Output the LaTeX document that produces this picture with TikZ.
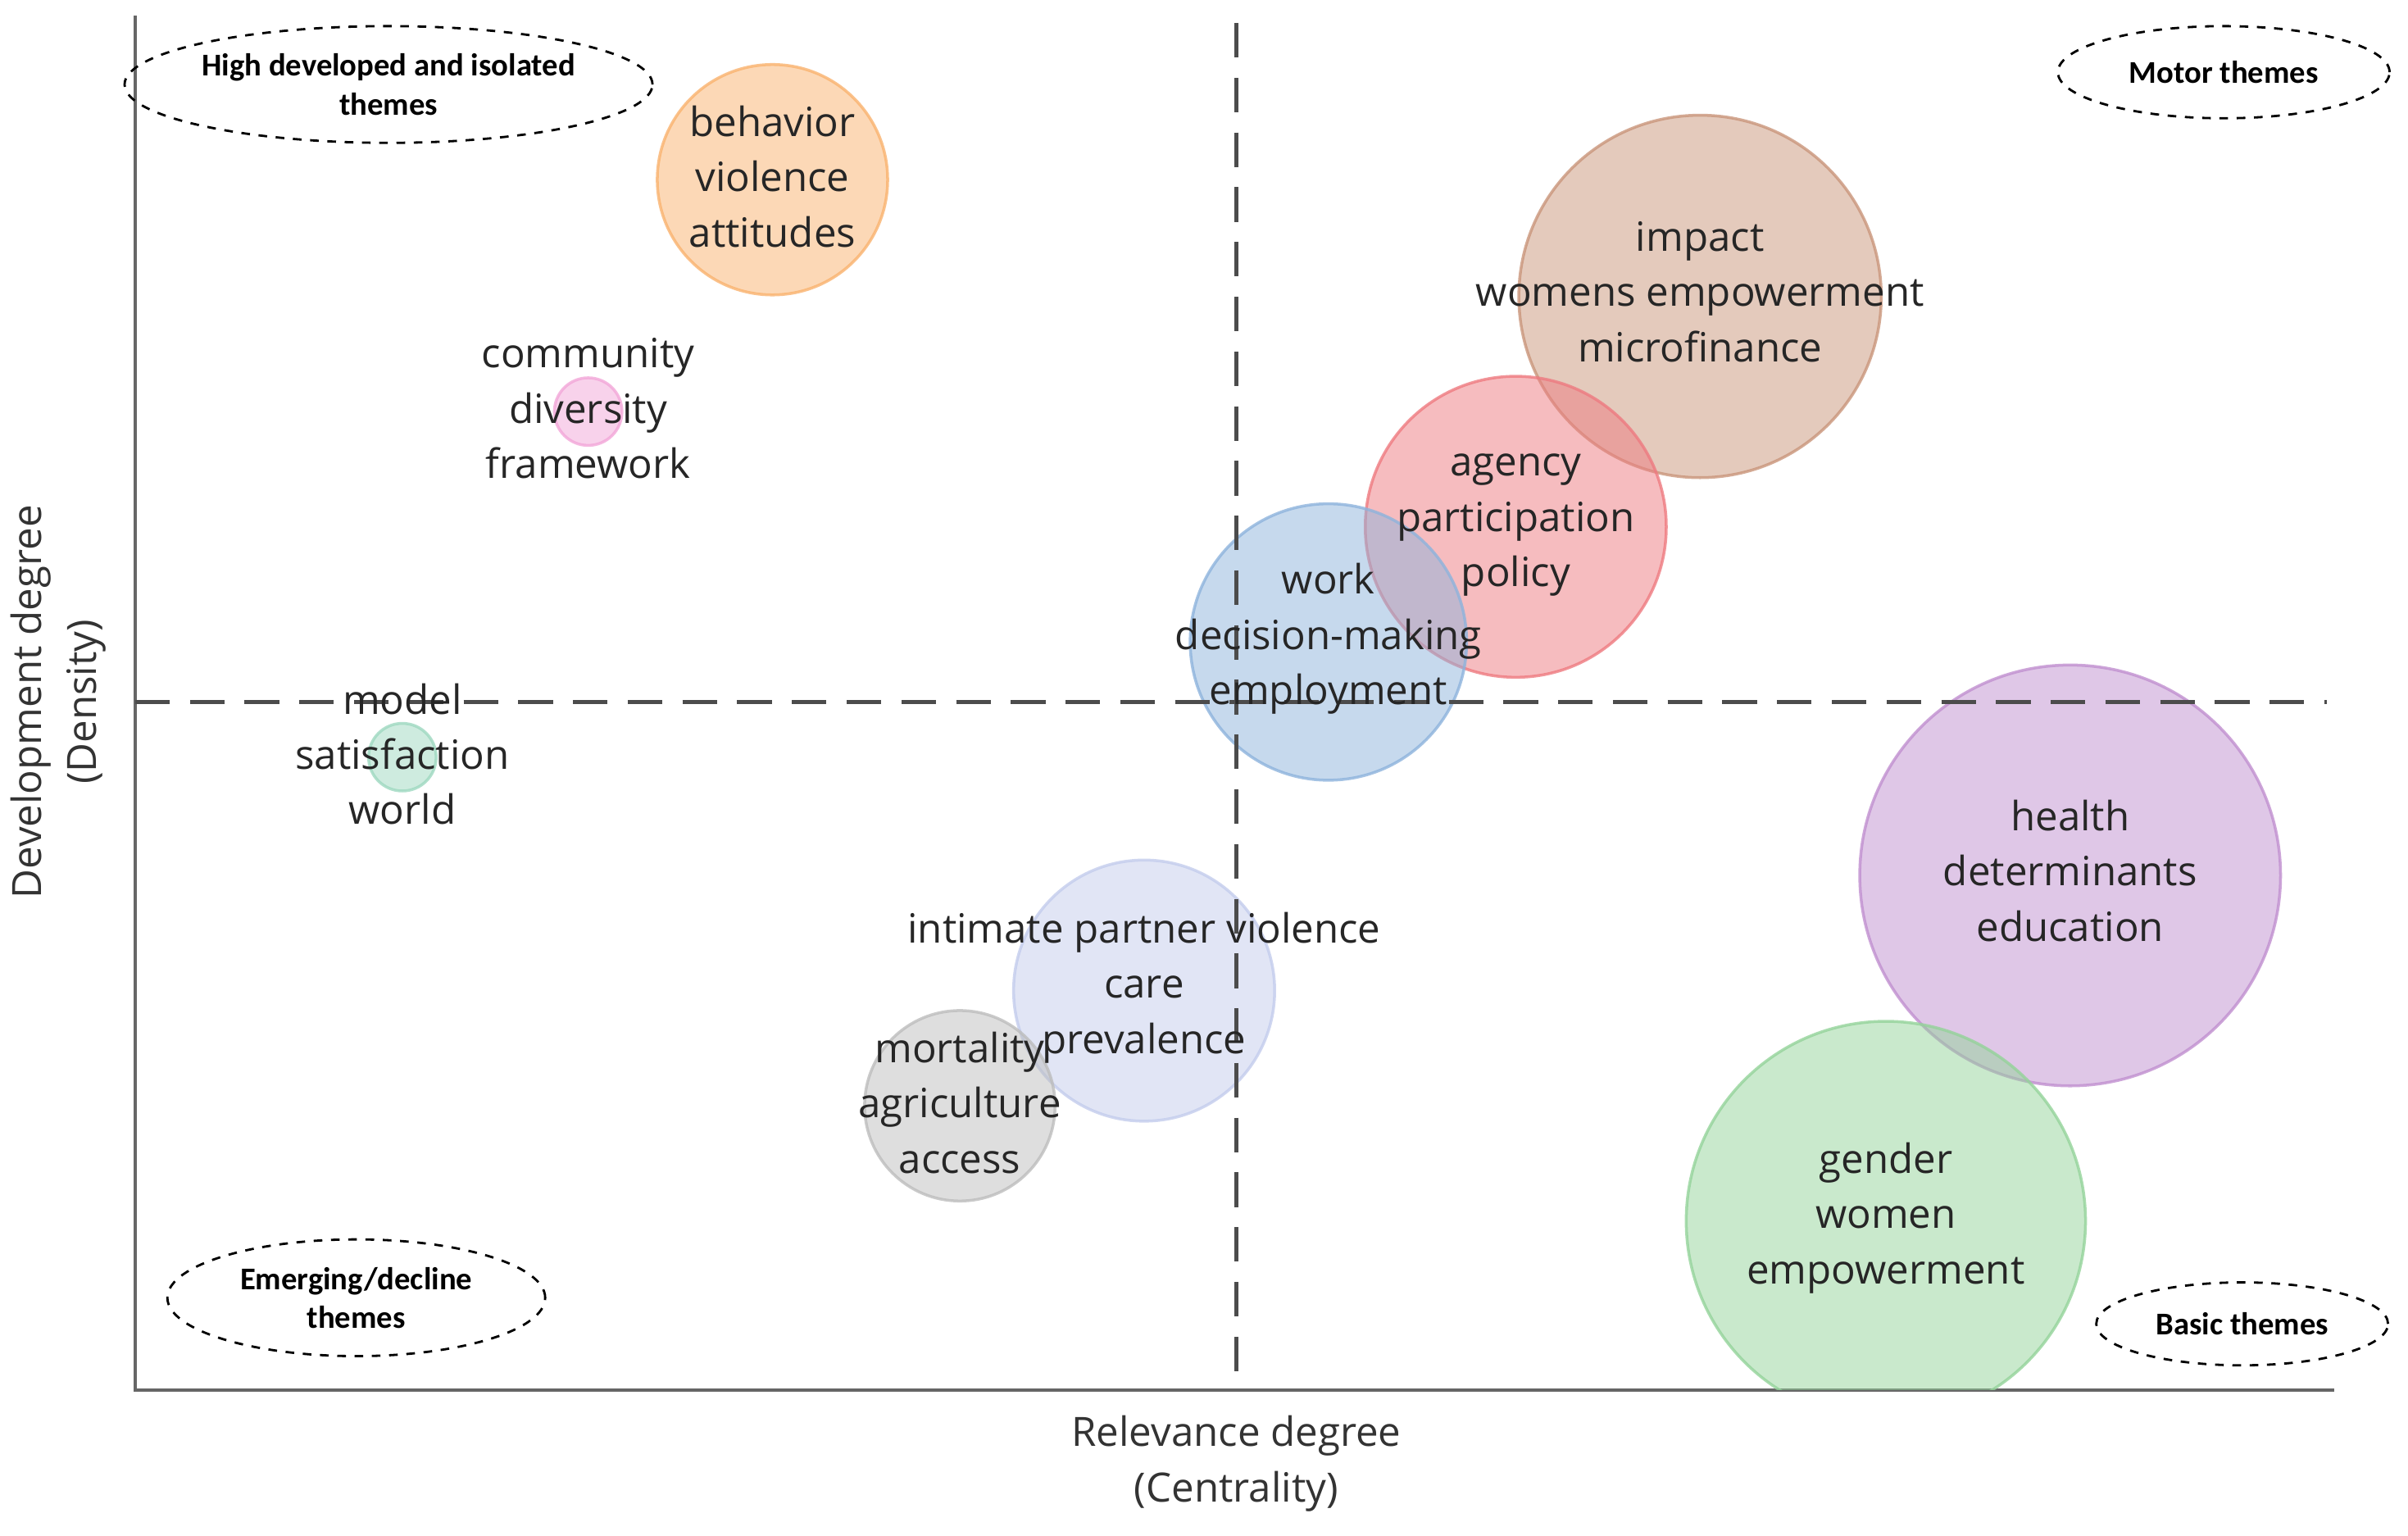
\documentclass[tikz,border=0pt]{standalone}
\usepackage{fontspec}
\setmainfont{Open Sans}
\newfontfamily\lblfont{Carlito}
\usetikzlibrary{shapes.geometric}
\definecolor{cOr}{HTML}{F9B26E}
\definecolor{cPk}{HTML}{F2A6D8}
\definecolor{cBr}{HTML}{C9957A}
\definecolor{cRd}{HTML}{EE7A80}
\definecolor{cBl}{HTML}{8DB3DC}
\definecolor{cGc}{HTML}{9ED8C0}
\definecolor{cLv}{HTML}{C3CCEC}
\definecolor{cGy}{HTML}{BDBDBD}
\definecolor{cPu}{HTML}{C08FCF}
\definecolor{cGn}{HTML}{94D39A}
\begin{document}
\begin{tikzpicture}[x=0.01874cm,y=-0.01874cm,
  bub/.style={circle,draw=#1,line width=1pt,fill=#1,fill opacity=0.5,draw opacity=0.8,inner sep=0pt},
  txt/.style={align=center,text=black!85,font=\fontsize{14}{19.2}\selectfont},
  oval/.style={ellipse,draw,dashed,line width=0.8pt,align=center,inner sep=0pt,font=\lblfont\bfseries\fontsize{11}{13.5}\selectfont},
  ax/.style={line width=1pt,black!60},
  dsh/.style={dash pattern=on 12pt off 7pt,line width=1.4pt,black!70}]
\useasboundingbox (0,0) rectangle (1568,1000);
\coordinate (o) at (88,905);
\coordinate (yt) at (88,10);
\coordinate (xr) at (1520,905);
\draw[ax] (yt) -- (o) -- (xr);
\path (503,117) node[bub=cOr,minimum size=150*0.01874cm] (c1) {};
\path (383,268) node[bub=cPk,minimum size=44*0.01874cm] (c2) {};
\path (1107,193) node[bub=cBr,minimum size=236*0.01874cm] (c3) {};
\path (987,343) node[bub=cRd,minimum size=196*0.01874cm] (c4) {};
\path (865,418) node[bub=cBl,minimum size=180*0.01874cm] (c5) {};
\path (262,493) node[bub=cGc,minimum size=44*0.01874cm] (c6) {};
\path (745,645) node[bub=cLv,minimum size=170*0.01874cm] (c7) {};
\path (625,720) node[bub=cGy,minimum size=124*0.01874cm] (c8) {};
\path (1348,570) node[bub=cPu,minimum size=274*0.01874cm] (c9) {};
\begin{scope}
\clip (88,0) rectangle (1568,905);
\path (1228,795) node[bub=cGn,minimum size=260*0.01874cm] (c10) {};
\end{scope}
\coordinate (vt) at (805,15); \coordinate (vb) at (805,905);
\coordinate (hl) at (88,457); \coordinate (hr) at (1515,457);
\draw[dsh] (vt) -- (vb);
\draw[dsh] (hl) -- (hr);
\node[txt] (t1) at (503,115) {behavior\\violence\\attitudes};
\node[txt] (t2) at (383,266) {community\\diversity\\framework};
\node[txt] (t3) at (1107,190) {impact\\womens empowerment\\microfinance};
\node[txt] (t4) at (987,342) {agency\\participation\\policy};
\node[txt] (t5) at (865,416) {work\\decision-making\\employment};
\node[txt] (t6) at (262,491) {model\\satisfaction\\world};
\node[txt] (t7) at (745,643) {intimate partner violence\\care\\prevalence};
\node[txt] (t8) at (625,718) {mortality\\agriculture\\access};
\node[txt] (t9) at (1348,567) {health\\determinants\\education};
\node[txt] (t10) at (1228,793) {gender\\women\\empowerment};
\node[oval,minimum width=290*0.01874cm,minimum height=76*0.01874cm] (o1) at (253,55) {High developed and isolated\\themes};
\node[oval,minimum width=216*0.01874cm,minimum height=60*0.01874cm] (o2) at (1448,47) {Motor themes};
\node[oval,minimum width=246*0.01874cm,minimum height=76*0.01874cm] (o3) at (232,845) {Emerging/decline\\themes};
\node[oval,minimum width=190*0.01874cm,minimum height=54*0.01874cm] (o4) at (1460,862) {Basic themes};
\node[txt,text=black!80] (xl) at (805,953) {Relevance degree\\(Centrality)};
\node[txt,text=black!80,rotate=90] (yl) at (38,457) {Development degree\\(Density)};
\end{tikzpicture}
\end{document}
